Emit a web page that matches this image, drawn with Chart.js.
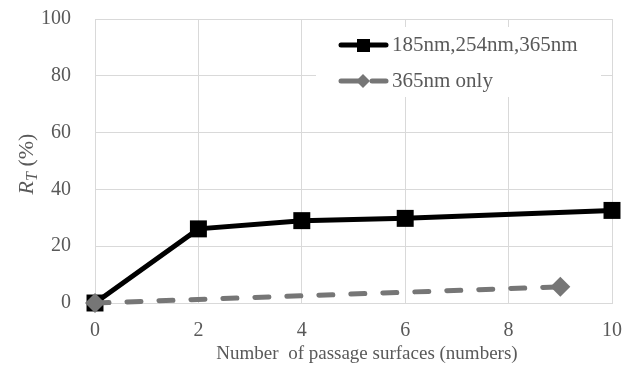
<!DOCTYPE html>
<html>
<head>
<meta charset="utf-8">
<script src="https://cdn.jsdelivr.net/npm/chart.js@4/dist/chart.umd.min.js"></script>
<style>
html,body{margin:0;padding:0;background:#fff;}
#wrap{width:638px;height:370px;position:relative;}
</style>
</head>
<body>
<div id="wrap"><canvas id="c" width="638" height="370"></canvas></div>
<script>
// ---- data ----
const xAll = [0, 2, 4, 6, 10];
const rtAll = [0, 26.1, 29.0, 29.8, 32.6];
const x365 = [0, 9];
const rt365 = [0, 5.7];
const xTicks = [0, 2, 4, 6, 8, 10];
const yTicks = [0, 20, 40, 60, 80, 100];
const seriesNames = ['185nm,254nm,365nm', '365nm only'];
const xTitle = 'Number  of passage surfaces (numbers)';

const TXT = '#595959';
const GRID = '#d9d9d9';
const FONT = '"Liberation Serif", "Times New Roman", serif';
const BLACK = '#000000';
const GRAY = '#767676';

const toPts = (xs, ys) => xs.map((x, i) => ({x: x, y: ys[i]}));

const customPlugin = {
  id: 'custom',
  afterDraw(chart) {
    const ctx = chart.ctx;
    ctx.save();
    // legend box
    ctx.fillStyle = '#ffffff';
    ctx.fillRect(316, 27, 285, 70);
    // row 1
    ctx.strokeStyle = BLACK; ctx.lineWidth = 5; ctx.lineCap = 'round';
    ctx.beginPath(); ctx.moveTo(341, 45); ctx.lineTo(386, 45); ctx.stroke();
    ctx.fillStyle = BLACK;
    ctx.fillRect(357, 39, 13, 13);
    // row 2
    ctx.strokeStyle = GRAY;
    ctx.beginPath(); ctx.moveTo(341, 81); ctx.lineTo(358, 81); ctx.stroke();
    ctx.beginPath(); ctx.moveTo(372, 81); ctx.lineTo(386, 81); ctx.stroke();
    ctx.fillStyle = GRAY;
    ctx.beginPath(); ctx.moveTo(363, 74); ctx.lineTo(370, 81); ctx.lineTo(363, 88); ctx.lineTo(356, 81); ctx.closePath(); ctx.fill();
    ctx.fillStyle = TXT;
    ctx.font = '21px ' + FONT;
    ctx.textBaseline = 'middle';
    ctx.textAlign = 'left';
    ctx.fillText(seriesNames[0], 392, 45);
    ctx.fillText(seriesNames[1], 392, 81);
    // x title
    ctx.font = '19px ' + FONT;
    ctx.textAlign = 'center';
    ctx.fillText(xTitle, 367, 354);
    // y title rotated: R_T (%)
    ctx.translate(26, 164);
    ctx.rotate(-Math.PI / 2);
    const fMain = 'italic 22px ' + FONT;
    const fSub = 'italic 16px ' + FONT;
    const fNorm = '22px ' + FONT;
    ctx.font = fMain; const wR = ctx.measureText('R').width;
    ctx.font = fSub; const wT = ctx.measureText('T').width;
    ctx.font = fNorm; const wP = ctx.measureText(' (%)').width;
    let x0 = -(wR + wT + wP) / 2;
    ctx.textAlign = 'left';
    ctx.textBaseline = 'alphabetic';
    ctx.font = fMain; ctx.fillText('R', x0, 7); x0 += wR;
    ctx.font = fSub; ctx.fillText('T', x0, 11); x0 += wT;
    ctx.font = fNorm; ctx.fillText(' (%)', x0, 7);
    ctx.restore();
  }
};

new Chart(document.getElementById('c'), {
  type: 'line',
  data: {
    datasets: [
      {
        label: seriesNames[1],
        data: toPts(x365, rt365),
        borderColor: GRAY,
        backgroundColor: GRAY,
        borderWidth: 5,
        borderDash: [14, 18],
        borderCapStyle: 'round',
        pointStyle: 'rectRot',
        pointRadius: 10,
        pointBorderWidth: 0,
        pointBackgroundColor: GRAY,
        tension: 0,
        clip: false,
        order: 0
      },
      {
        label: seriesNames[0],
        data: toPts(xAll, rtAll),
        borderColor: BLACK,
        backgroundColor: BLACK,
        borderWidth: 5,
        pointStyle: 'rect',
        pointRadius: 12,
        pointBorderWidth: 0,
        pointBackgroundColor: BLACK,
        tension: 0,
        clip: false,
        order: 1
      }
    ]
  },
  options: {
    responsive: false,
    animation: false,
    layout: { padding: { left: 0, right: 26, top: 19, bottom: 0 } },
    plugins: { legend: { display: false }, tooltip: { enabled: false } },
    scales: {
      x: {
        type: 'linear',
        min: 0, max: 10,
        afterBuildTicks: (s) => { s.ticks = xTicks.map(v => ({value: v})); },
        afterFit: (s) => { s.height = 67; s.paddingLeft = 0; s.paddingRight = 0; },
        grid: { color: GRID, lineWidth: 1, drawTicks: false },
        border: { color: GRID, width: 1 },
        ticks: { color: TXT, font: { family: FONT, size: 20 }, padding: 16, maxRotation: 0 }
      },
      y: {
        min: 0, max: 100,
        afterBuildTicks: (s) => { s.ticks = yTicks.map(v => ({value: v})); },
        afterFit: (s) => { s.width = 95; s.paddingTop = 0; s.paddingBottom = 0; },
        grid: { color: GRID, lineWidth: 1, drawTicks: false },
        border: { color: GRID, width: 1 },
        ticks: { color: TXT, font: { family: FONT, size: 20 }, padding: 24 }
      }
    }
  },
  plugins: [customPlugin]
});
</script>
</body>
</html>
